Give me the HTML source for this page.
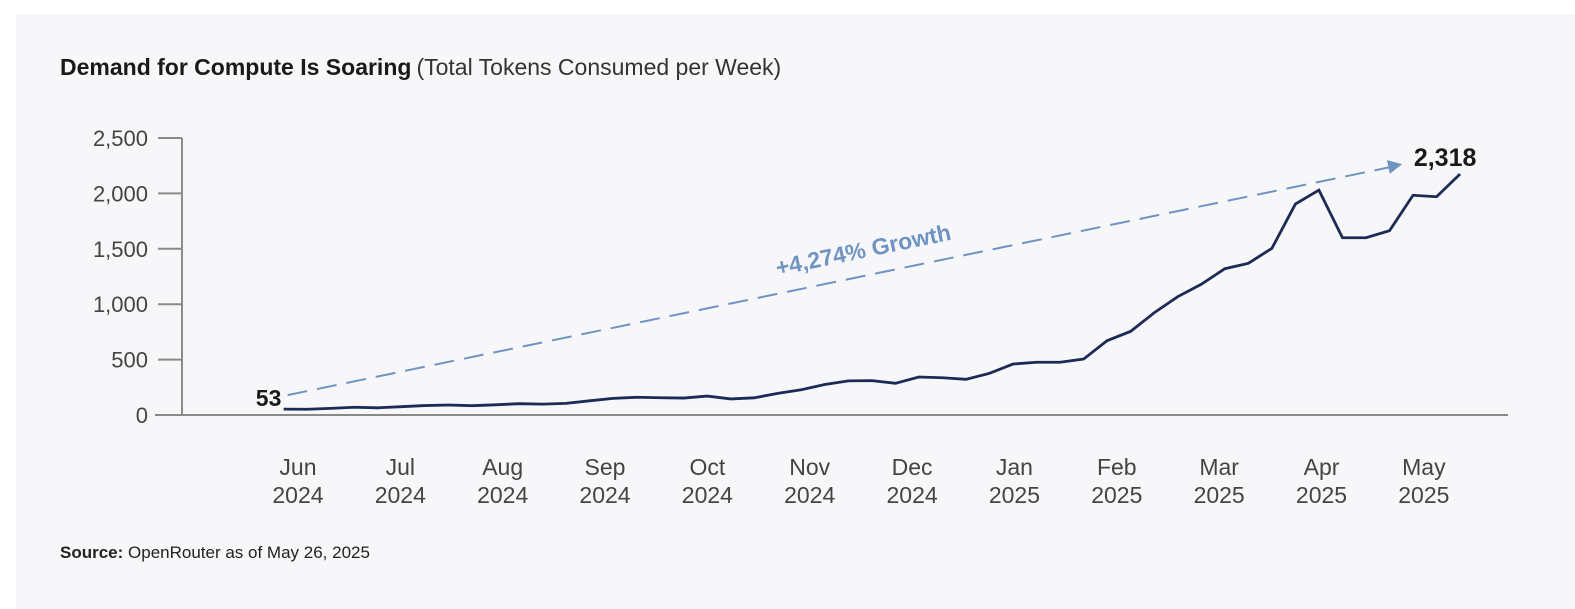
<!DOCTYPE html>
<html><head><meta charset="utf-8">
<style>
html,body{margin:0;padding:0;background:#fff;}
body{width:1575px;height:609px;position:relative;overflow:hidden;font-family:"Liberation Sans",sans-serif;}
#panel{position:absolute;left:16px;top:14px;right:0;bottom:0;background:#f7f7fa;}
</style></head>
<body>
<div id="panel"></div>
<svg id="chart" width="1575" height="609" style="position:absolute;left:0;top:0">
  <text x="60" y="75" font-size="23" fill="#1a1a1a"><tspan font-weight="bold">Demand for Compute Is Soaring</tspan><tspan dx="5" fill="#333">(Total Tokens Consumed per Week)</tspan></text>
  <text x="60" y="558" font-size="17" fill="#222"><tspan font-weight="bold">Source:</tspan> OpenRouter as of May 26, 2025</text>
  <g id="axes"></g>
  <g id="marks"></g>
</svg>
<script>
const values = [53,52,60,70,65,75,85,90,84,92,102,98,105,128,150,160,156,153,171,145,155,195,228,275,308,310,286,343,336,322,376,460,476,476,505,671,755,923,1068,1180,1320,1369,1504,1904,2030,1600,1600,1663,1983,1970,2175];
const yTicks = [0,500,1000,1500,2000,2500];
const yTickLabels = ["0","500","1,000","1,500","2,000","2,500"];
const monthLabels = ["Jun","Jul","Aug","Sep","Oct","Nov","Dec","Jan","Feb","Mar","Apr","May"];
const yearLabels = ["2024","2024","2024","2024","2024","2024","2024","2025","2025","2025","2025","2025"];
const monthWeekIndex = [0.61,4.96,9.31,13.66,18.01,22.36,26.71,31.06,35.41,39.76,44.11,48.46];
const startLabel = "53", endLabel = "2,318", startValue = 53, endValue = 2318;
const growthLabel = "+4,274% Growth";

const NS="http://www.w3.org/2000/svg";
const x = i => 283.6 + i*23.53;
const y = v => 415 - v*0.1108;
function mk(tag, attrs, parent){const e=document.createElementNS(NS,tag);for(const k in attrs)e.setAttribute(k,attrs[k]);parent.appendChild(e);return e;}
const axes=document.getElementById('axes'), marks=document.getElementById('marks');

let l=mk('line',{x1:182,y1:y(2500),x2:182,y2:y(0),stroke:'#8a8a8a','stroke-width':2},axes);


yTicks.forEach((t,k)=>{
  const tk=mk('line',{x1:158,y1:y(t),x2:182,y2:y(t),stroke:'#8a8a8a','stroke-width':2},axes);
  
  
  const tx=mk('text',{x:148,y:y(t)+8,'text-anchor':'end','font-size':22,fill:'#444'},axes);
  tx.textContent=yTickLabels[k];
  
  
});
l=mk('line',{x1:155,y1:y(0),x2:1508,y2:y(0),stroke:'#8a8a8a','stroke-width':2},axes);


monthLabels.forEach((m,k)=>{
  const tx=mk('text',{x:x(monthWeekIndex[k]),y:475,'text-anchor':'middle','font-size':23,fill:'#444'},axes);
  const a=mk('tspan',{x:x(monthWeekIndex[k]),dy:0},tx); a.textContent=m;
  const b=mk('tspan',{x:x(monthWeekIndex[k]),dy:28},tx); b.textContent=yearLabels[k];
  
  
});

// trend arrow
const x0=x(0)+4, y0=y(startValue)-14, x1=x(values.length-1)-58, y1=y(endValue)+6;
const tl=mk('line',{x1:x0,y1:y0,x2:x1-12,y2:y1+3,stroke:'#6f94c2','stroke-width':2,'stroke-dasharray':'20 10'},marks);


const ang=Math.atan2(y1-y0,x1-x0);
const hx=x1, hy=y1;
const p1=[hx-14*Math.cos(ang)+7*Math.sin(ang), hy-14*Math.sin(ang)-7*Math.cos(ang)];
const p2=[hx-14*Math.cos(ang)-7*Math.sin(ang), hy-14*Math.sin(ang)+7*Math.cos(ang)];
const ah=mk('polygon',{points:`${hx},${hy} ${p1} ${p2}`,fill:'#6f94c2'},marks);


const gx=(x0+x1)/2+20, gy=(y0+y1)/2-22;
const gt=mk('text',{x:gx,y:gy,'text-anchor':'middle','font-size':23,'font-weight':'bold',fill:'#6f94c2',transform:`rotate(${ang*180/Math.PI} ${gx} ${gy})`},marks);
gt.textContent=growthLabel;



const pl=mk('polyline',{points:values.map((v,i)=>x(i)+','+y(v)).join(' '),fill:'none',stroke:'#1c2b55','stroke-width':2.8,'stroke-linejoin':'miter'},marks);



const sl=mk('text',{x:x(0)-15,y:y(startValue)-3,'text-anchor':'middle','font-size':23,'font-weight':'bold',fill:'#1a1a1a'},marks);
sl.textContent=startLabel;


const el=mk('text',{x:x(values.length-1)-15,y:y(endValue)+8,'text-anchor':'middle','font-size':25,'font-weight':'bold',fill:'#1a1a1a'},marks);
el.textContent=endLabel;


</script>
</body></html>
